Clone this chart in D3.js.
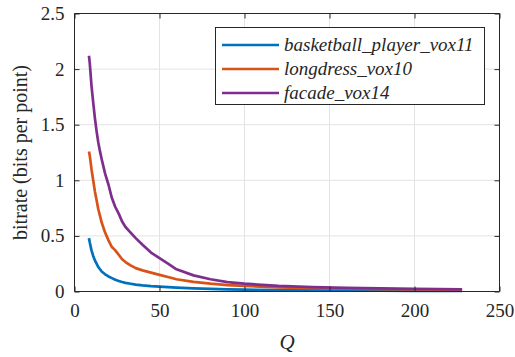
<!DOCTYPE html>
<html>
<head>
<meta charset="utf-8">
<script src="https://cdn.jsdelivr.net/npm/d3@7"></script>
<style>
  html, body { margin: 0; padding: 0; background: #fff; }
  svg { display: block; }
  svg text { font-family: "Liberation Serif", "Times New Roman", Tinos, "DejaVu Serif", serif !important; fill: #262626; }
</style>
</head>
<body>
<svg id="chart" width="515" height="357"></svg>
<script>
// ---- data ----
const qValues = [8.5, 9, 10, 11, 12, 13, 14, 15, 16, 18, 20, 22, 24, 26, 28, 30, 33, 36, 40, 45, 50, 55, 60, 70, 80, 90, 100, 120, 140, 160, 180, 200, 228];
const basketballPlayer = [0.48, 0.44, 0.37, 0.32, 0.28, 0.25, 0.22, 0.20, 0.18, 0.155, 0.135, 0.12, 0.105, 0.095, 0.085, 0.078, 0.07, 0.062, 0.055, 0.048, 0.043, 0.039, 0.035, 0.028, 0.023, 0.019, 0.016, 0.012, 0.010, 0.008, 0.007, 0.006, 0.005];
const longdress = [1.26, 1.22, 1.10, 1.00, 0.90, 0.82, 0.74, 0.68, 0.62, 0.53, 0.46, 0.40, 0.37, 0.33, 0.29, 0.265, 0.235, 0.21, 0.19, 0.17, 0.15, 0.13, 0.11, 0.087, 0.07, 0.058, 0.05, 0.037, 0.03, 0.025, 0.021, 0.018, 0.015];
const facade = [2.12, 2.05, 1.85, 1.70, 1.56, 1.44, 1.34, 1.26, 1.19, 1.06, 0.96, 0.84, 0.76, 0.70, 0.63, 0.58, 0.53, 0.48, 0.42, 0.35, 0.30, 0.25, 0.20, 0.145, 0.11, 0.085, 0.07, 0.05, 0.04, 0.033, 0.028, 0.024, 0.02];
const seriesNames = ["basketball_player_vox11", "longdress_vox10", "facade_vox14"];
const seriesColors = ["#0072BD", "#D95319", "#7E2F8E"];
const xTicks = [0, 50, 100, 150, 200, 250];
const yTicks = [0, 0.5, 1, 1.5, 2, 2.5];
const yTickLabels = ["0", "0.5", "1", "1.5", "2", "2.5"];
const xLabel = "Q";
const yLabel = "bitrate (bits per point)";

// ---- layout ----
const serif = "'Liberation Serif', 'Times New Roman', Tinos, 'DejaVu Serif', serif";
const svg = d3.select("#chart");
const L = 74.5, R = 499.5, T = 13.5, B = 291.5;
const x = d3.scaleLinear().domain([0, 250]).range([L, R]);
const y = d3.scaleLinear().domain([0, 2.5]).range([B, T]);
const axisColor = "#262626";
const gridColor = "#e3e3e3";

// grid
const g = svg.append("g");
g.selectAll(".gx").data(xTicks.slice(1, -1)).enter().append("line")
  .attr("x1", d => x(d)).attr("x2", d => x(d)).attr("y1", T).attr("y2", B)
  .attr("stroke", gridColor).attr("stroke-width", 1);
g.selectAll(".gy").data(yTicks.slice(1, -1)).enter().append("line")
  .attr("y1", d => y(d)).attr("y2", d => y(d)).attr("x1", L).attr("x2", R)
  .attr("stroke", gridColor).attr("stroke-width", 1);

// lines
const allSeries = [basketballPlayer, longdress, facade];
const line = d3.line().x((d, i) => x(qValues[i])).y(d => y(d));
allSeries.forEach((vals, k) => {
  svg.append("path").datum(vals).attr("d", line)
    .attr("fill", "none").attr("stroke", seriesColors[k])
    .attr("stroke-width", 2.7).attr("stroke-linejoin", "round").attr("stroke-linecap", "butt");
});

// axes (box with inward ticks)
const axBottom = d3.axisBottom(x).tickValues(xTicks).tickSize(-5).tickPadding(12).tickFormat(d3.format("d"));
const axTop = d3.axisTop(x).tickValues(xTicks).tickSize(-5).tickFormat("");
const axLeft = d3.axisLeft(y).tickValues(yTicks).tickSize(-5).tickPadding(10).tickFormat((d, i) => yTickLabels[i]);
const axRight = d3.axisRight(y).tickValues(yTicks).tickSize(-5).tickFormat("");

function styleAxis(sel) {
  sel.attr("font-family", serif).attr("font-size", 19);
  sel.select(".domain").attr("stroke", axisColor).attr("stroke-width", 1);
  sel.selectAll(".tick line").attr("stroke", axisColor).attr("stroke-width", 1);
  sel.selectAll(".tick text").attr("fill", axisColor)
    .style("font-family", serif).style("font-size", "19px");
}
svg.append("g").attr("transform", `translate(0,${B})`).call(axBottom).call(styleAxis)
  .call(s => s.select(".domain").attr("d", `M${L},0H${R}`));
svg.append("g").attr("transform", `translate(0,${T})`).call(axTop).call(styleAxis)
  .call(s => s.select(".domain").attr("d", `M${L},0H${R}`));
svg.append("g").attr("transform", `translate(${L},0)`).call(axLeft).call(styleAxis)
  .call(s => s.select(".domain").attr("d", `M0,${T}V${B}`));
svg.append("g").attr("transform", `translate(${R},0)`).call(axRight).call(styleAxis)
  .call(s => s.select(".domain").attr("d", `M0,${T}V${B}`));

// axis labels
svg.append("text").attr("x", (L + R) / 2).attr("y", 349)
  .attr("text-anchor", "middle").style("font-family", serif).style("font-size", "21px").style("font-style", "italic")
  .text(xLabel);
svg.append("text").attr("transform", `translate(27,${(T + B) / 2}) rotate(-90)`)
  .attr("text-anchor", "middle").style("font-family", serif).style("font-size", "20px")
  .text(yLabel);

// legend
const lg = svg.append("g");
lg.append("rect").attr("x", 215.5).attr("y", 27.5).attr("width", 269).attr("height", 77)
  .attr("fill", "#fff").attr("stroke", axisColor).attr("stroke-width", 1);
seriesNames.forEach((name, k) => {
  const yy = 45 + k * 24;
  lg.append("line").attr("x1", 222).attr("x2", 279).attr("y1", yy).attr("y2", yy)
    .attr("stroke", seriesColors[k]).attr("stroke-width", 2.7);
  lg.append("text").attr("x", 284).attr("y", yy + 6)
    .style("font-family", serif).style("font-size", "19px").style("font-style", "italic").text(name);
});
</script>
</body>
</html>
